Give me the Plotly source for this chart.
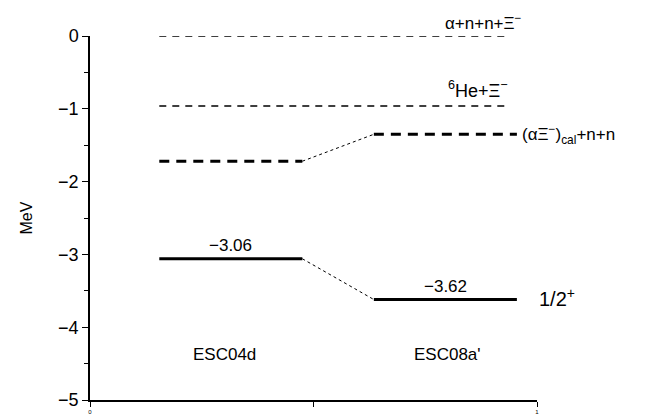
import plotly.graph_objects as go

# ---- data ----
models = ["ESC04d", "ESC08a'"]
threshold_names = ["α+n+n+Ξ<sup>−</sup>", "<sup>6</sup>He+Ξ<sup>−</sup>"]
threshold_energies = [0.0, -0.96]
subsystem_energies = [-1.72, -1.35]      # (αΞ-)cal + n + n for each model
bound_energies = [-3.06, -3.62]          # 1/2+ state for each model
bound_labels = ["−3.06", "−3.62"]
model_x0 = [0.31, 1.27]
model_x1 = [0.95, 1.91]
model_label_x = [0.60, 1.60]
threshold_x = [0.31, 1.88]

FONT = "Liberation Sans, Arial, sans-serif"
fig = go.Figure()

# thresholds (thin dashed)
for e in threshold_energies:
    fig.add_trace(go.Scatter(x=threshold_x, y=[e, e], mode="lines",
                             line=dict(color="black", width=1.5, dash="7px,6px"),
                             showlegend=False, hoverinfo="skip", cliponaxis=False))

# subsystem levels (thick dashed) and bound levels (thick solid)
for i in range(2):
    fig.add_trace(go.Scatter(x=[model_x0[i], model_x1[i]], y=[subsystem_energies[i]] * 2,
                             mode="lines", line=dict(color="black", width=3, dash="10px,7px"),
                             showlegend=False, hoverinfo="skip"))
    fig.add_trace(go.Scatter(x=[model_x0[i], model_x1[i]], y=[bound_energies[i]] * 2,
                             mode="lines", line=dict(color="black", width=3),
                             showlegend=False, hoverinfo="skip"))

# dotted connectors
for series in (subsystem_energies, bound_energies):
    fig.add_trace(go.Scatter(x=[model_x1[0], model_x0[1]], y=[series[0], series[1]],
                             mode="lines", line=dict(color="black", width=1, dash="dot"),
                             showlegend=False, hoverinfo="skip"))

# value labels
for i in range(2):
    fig.add_annotation(x=(model_x0[i] + model_x1[i]) / 2, y=bound_energies[i],
                       text=bound_labels[i], showarrow=False, yanchor="bottom", yshift=2,
                       font=dict(size=17, family=FONT, color="black"))
    fig.add_annotation(x=model_label_x[i], y=-4.38,
                       text=models[i], showarrow=False, yanchor="middle",
                       font=dict(size=17, family=FONT, color="black"))

# right-side labels
fig.add_annotation(x=0.97, xref="paper", y=1.038, yref="paper", text=threshold_names[0],
                   showarrow=False, xanchor="right", yanchor="middle",
                   font=dict(size=17, family=FONT, color="black"))
fig.add_annotation(x=threshold_x[1], y=-0.74, text=threshold_names[1], showarrow=False,
                   xanchor="right", yanchor="middle",
                   font=dict(size=18, family=FONT, color="black"))
fig.add_annotation(x=1.925, y=subsystem_energies[1], text="(αΞ<sup>−</sup>)<sub>cal</sub>+n+n",
                   showarrow=False, xanchor="left", yanchor="middle",
                   font=dict(size=17, family=FONT, color="black"))
fig.add_annotation(x=1.0, xref="paper", y=bound_energies[1] + 0.03, text="1/2<sup>+</sup>",
                   showarrow=False, xanchor="left", yanchor="middle",
                   font=dict(size=20, family=FONT, color="black"))

# page body has an 8px margin: compensate so the plot area lands where the reference has it
fig.update_layout(
    width=657, height=416,
    margin=dict(l=82, r=128, t=28, b=24, autoexpand=False),
    plot_bgcolor="white", paper_bgcolor="white",
    font=dict(family=FONT, color="black"),
)
fig.update_xaxes(range=[0, 2], showgrid=False, zeroline=False, showline=True,
                 linecolor="black", linewidth=1.5, ticks="outside", ticklen=5,
                 tickcolor="black", tickvals=[0, 1, 2], ticktext=["0", "", "1"],
                 tickfont=dict(size=6), automargin=False)
fig.update_yaxes(range=[-5, 0], showgrid=False, zeroline=False, showline=True,
                 linecolor="black", linewidth=1.5, ticks="outside", ticklen=6,
                 tickcolor="black", tickvals=[0, -1, -2, -3, -4, -5],
                 ticktext=["0", "−1", "−2", "−3", "−4", "−5"],
                 tickfont=dict(size=18), minor=dict(ticks="outside", ticklen=4, dtick=0.5,
                                                     tickcolor="black"),
                 title=dict(text="MeV", font=dict(size=16), standoff=22), automargin=False)

fig.write_html("out.html")
